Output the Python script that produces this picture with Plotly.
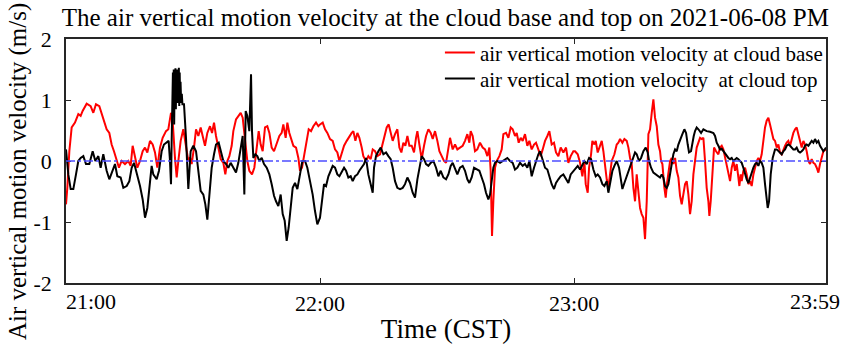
import plotly.graph_objects as go

# time in minutes after 21:00 (CST), velocities in m/s
base_time = [0.0, 0.31, 0.79, 1.34, 2.12, 2.91, 3.46, 3.93, 4.88, 5.82, 6.45, 7.08, 7.87, 8.42, 8.97, 9.60,
             10.23, 10.78, 11.33, 11.96, 12.51, 13.14, 13.93, 14.72, 15.27, 15.74, 16.29, 16.85, 17.48, 18.11,
             18.66, 19.21, 19.84, 20.47, 21.02, 21.57, 22.20, 22.83, 23.62, 24.17, 24.80, 25.19, 25.74, 26.14,
             26.53, 27.08, 27.71, 28.11, 28.89,
             29.29, 29.68, 30.23, 30.71, 31.26, 31.81, 32.28, 32.83, 33.38, 34.01, 34.49, 34.96, 35.43, 35.98,
             36.53, 37.16, 37.63, 38.11, 38.58, 39.13, 39.52, 40.15, 40.70, 41.26, 41.73, 42.12, 42.51, 42.83,
             43.30, 43.93, 44.48, 45.04, 45.51, 45.98, 46.45, 47.00, 47.55, 48.03, 48.58, 49.13, 49.76, 50.39,
             50.94, 51.33, 51.88, 52.28, 52.75, 53.22, 53.70, 54.33, 54.88, 55.27, 55.74, 56.22, 56.85, 57.32,
             57.87, 58.42, 59.05, 59.60,
             60.00, 60.63, 61.18, 61.73, 62.36, 62.99, 63.54, 64.09, 64.57, 65.12, 65.67, 66.30, 66.93, 67.48,
             67.87, 68.35, 68.82, 69.29, 69.84, 70.23, 70.86, 71.41, 71.96, 72.44, 72.99, 73.54, 74.17, 74.80,
             75.35, 75.74, 76.22, 76.69, 77.16, 77.71, 78.26, 78.74, 79.21, 79.68, 80.15, 80.63, 81.10, 81.65,
             82.20, 82.67, 82.99, 83.46, 84.01, 84.56, 85.04, 85.59, 86.14, 86.61, 87.16, 87.71, 88.19, 88.74,
             89.28, 89.76, 90.31,
             90.70, 91.33, 91.88, 92.43, 93.06, 93.69, 94.24, 94.79, 95.27, 95.58, 96.05, 96.60, 97.15, 97.78,
             98.41, 98.97, 99.52, 99.99, 100.30, 100.62, 100.93, 101.33, 101.72, 102.35, 102.90, 103.30, 103.93,
             104.48, 105.03, 105.50, 106.05, 106.45, 106.92, 107.39, 107.86, 108.41, 108.96, 109.44, 109.99,
             110.54, 111.01, 111.56, 112.11, 112.59, 113.14, 113.69, 114.16, 114.71, 115.26, 115.73, 116.29,
             116.84, 117.47, 118.10, 118.65, 119.20, 119.83,
             120.23, 120.86, 121.41, 121.96, 122.43, 122.75, 123.22, 123.54, 124.01, 124.32, 124.80, 125.11,
             125.58, 126.13, 126.53, 126.92, 127.32, 127.71, 128.10, 128.50, 128.89, 129.52, 130.07, 130.46,
             130.86, 131.41, 131.88, 132.43, 132.83, 133.22, 133.61, 134.01, 134.40, 134.79, 135.19, 135.58,
             135.97, 136.37, 136.76, 137.16, 137.55, 137.94, 138.34, 138.73, 139.12, 139.52, 139.91, 140.30,
             140.54, 140.86, 141.33, 141.64, 141.96, 142.27, 142.67, 143.06, 143.45, 143.85, 144.24, 144.63,
             145.03, 145.42, 145.82, 146.21, 146.60, 147.00, 147.39, 147.78, 148.18, 148.57, 148.96, 149.36,
             149.75,
             150.14, 150.54, 150.93, 151.32, 151.72, 151.95, 152.27, 152.74, 153.06, 153.53, 154.08, 154.47,
             154.87, 155.26, 155.65, 156.05, 156.44, 156.84, 157.23, 157.62, 158.02, 158.41, 158.80, 159.04,
             159.35, 159.59, 159.98, 160.38, 160.77, 161.17, 161.56, 161.95, 162.35, 162.74, 163.13, 163.53,
             163.92, 164.31, 164.71, 165.10, 165.49, 165.89, 166.28, 166.68, 167.07, 167.46, 167.86, 168.25,
             168.64, 169.04, 169.43, 169.83, 170.22, 170.61, 171.01, 171.40, 171.79, 172.19, 172.58, 172.97,
             173.37, 173.76, 174.16, 174.55, 174.94, 175.34, 175.73, 176.12, 176.52, 176.91, 177.31, 177.70,
             178.09, 178.49, 178.88, 179.51]
base_vel = [-0.71, -0.44, 0.16, 0.55, 0.63, 0.77, 0.74, 0.82, 0.94, 0.90, 0.79, 0.93, 0.90, 0.77, 0.68, 0.52,
            0.46, 0.27, 0.16, 0.0, -0.11, 0.0, -0.05, 0.0, -0.08, 0.25, 0.05, -0.11, 0.0, 0.16,
            0.22, 0.14, 0.33, 0.27, 0.14, -0.11, 0.22, 0.38, 0.49, 0.52, 0.79, 0.66, 0.05, -0.27,
            0.0, 0.33, 0.52, 0.33, 0.0,
            0.06, -0.05, 0.22, 0.52, 0.41, 0.55, 0.41, 0.25, 0.46, 0.57, 0.46, 0.63, 0.41, 0.22,
            0.03, -0.03, -0.22, 0.0, 0.08, 0.25, 0.49, 0.68, 0.74, 0.79, 0.71, 0.44, 0.22, 0.0,
            -0.16, -0.22, -0.11, 0.22, 0.49, 0.27, 0.16, 0.55, 0.57, 0.46, 0.22, 0.16, 0.30, 0.41,
            0.46, 0.60, 0.38, 0.63, 0.46, 0.36, 0.25, 0.22, 0.05, -0.16, -0.11, 0.08, 0.33, 0.52,
            0.49, 0.57, 0.63, 0.57,
            0.60, 0.63, 0.52, 0.46, 0.36, 0.33, 0.19, 0.14, 0.0, 0.14, 0.25, 0.33, 0.41, 0.46,
            0.49, 0.33, 0.46, 0.38, 0.22, 0.08, 0.0, 0.08, 0.03, 0.19, 0.16, 0.08, 0.11, 0.30,
            0.46, 0.55, 0.60, 0.46, 0.33, 0.44, 0.52, 0.22, 0.14, 0.30, 0.25, 0.41, 0.25, 0.25,
            0.14, 0.38, 0.49, 0.27, 0.03, 0.25, 0.41, 0.52, 0.46, 0.36, 0.49, 0.33, 0.16, 0.08,
            0.0, -0.03, 0.19,
            0.38, 0.19, 0.27, 0.19, 0.22, 0.25, 0.33, 0.44, 0.30, 0.49, 0.41, 0.16, 0.19, 0.30,
            0.22, 0.19, 0.08, 0.22, -0.16, -1.23, -0.66, -0.11, 0.0, 0.08, 0.19, 0.44, 0.46,
            0.38, 0.55, 0.52, 0.41, 0.46, 0.30, 0.38, 0.33, 0.44, 0.25, 0.33, 0.19,
            0.27, 0.30, 0.19, 0.08, 0.19, 0.33, 0.41, 0.49, 0.27, 0.30, 0.14, 0.08,
            0.22, 0.14, 0.22, -0.03, 0.08, 0.16,
            0.16, 0.11, -0.03, -0.25, 0.0, -0.38, -0.52, -0.11, 0.11, 0.33, 0.27, 0.33,
            0.14, 0.25, 0.33, 0.16, -0.08, -0.30, -0.44, -0.16, 0.0, 0.11, 0.27, 0.30,
            0.36, 0.30, 0.36, 0.33, 0.22, 0.05, -0.05, -0.44, -0.66, -0.22, -0.49, -0.77,
            -0.87, -0.93, -1.28, -0.66, 0.44, 0.52, 0.79, 1.01, 0.71, 0.57, 0.27, 0.16,
            0.0, -0.05, -0.44, -0.60, -0.36, -0.16, 0.0, 0.05, -0.05, 0.05, -0.16, -0.27,
            -0.57, -0.71, -0.55, -0.38, -0.33, -0.55, -0.87, -0.66, -0.22, 0.05, 0.22, 0.30,
            0.38,
            0.36, 0.38, 0.0, -0.44, -0.66, -0.90, -0.66, -0.16, 0.22, 0.16, 0.11, 0.22,
            0.25, 0.19, 0.05, -0.11, -0.22, -0.33, -0.11, 0.0, -0.16, -0.05, -0.27, -0.41,
            -0.22, -0.33, -0.16, -0.11, -0.22, -0.38, -0.33, -0.41, -0.22, -0.11, 0.0, 0.05,
            0.0, 0.11, 0.33, 0.55, 0.66, 0.71, 0.60, 0.46, 0.36, 0.33, 0.22, 0.27,
            0.14, 0.11, 0.19, 0.25, 0.30, 0.33, 0.25, 0.36, 0.46, 0.52, 0.55, 0.44,
            0.33, 0.22, 0.33, 0.27, 0.16, 0.0, -0.05, 0.03, -0.03, -0.05, -0.11, -0.19,
            -0.05, 0.08, 0.16, 0.19]

top_time = [0.0, 0.55, 1.10, 1.73, 2.36, 2.91, 3.46, 4.09, 4.72, 5.51, 6.30, 6.93, 7.64, 8.18, 8.81, 9.60,
            10.23, 11.02, 11.57, 12.12, 12.91, 13.54, 14.33, 14.96, 15.51, 16.06, 16.69, 17.48, 18.11, 18.66,
            19.21, 19.68, 20.23, 20.62, 21.41, 21.96, 22.59, 23.14, 23.77, 24.24, 24.56, 24.80, 24.95, 25.05,
            25.15, 25.25, 25.35, 25.45, 25.55, 25.65, 25.75, 25.85, 25.95, 26.05, 26.15, 26.25, 26.35, 26.45,
            26.55, 26.65, 26.75, 26.85, 26.95, 27.05, 27.20, 27.35, 27.50, 27.87, 28.34, 28.89, 29.44,
            30.08, 30.71, 31.26, 31.81, 32.44, 32.91, 33.38, 33.86, 34.41, 34.96, 35.43, 36.06, 36.53, 37.16,
            37.79, 38.34, 38.89, 39.52, 40.15, 40.70, 41.26, 41.73, 42.12, 42.44, 42.83, 43.30, 43.70, 43.93,
            44.25, 44.72, 45.19, 45.67, 46.22, 46.77, 47.40, 48.03, 48.58, 49.13, 49.60, 50.15, 50.70, 51.18,
            51.65, 52.12, 52.59, 53.07, 53.54, 54.09, 54.64, 55.27, 55.82, 56.45, 57.00, 57.63, 58.26, 58.81,
            59.36, 59.99,
            60.39, 60.94, 61.42, 61.97, 62.52, 62.99, 63.54, 64.09, 64.57, 65.12, 65.67, 66.14, 66.69, 67.24,
            67.71, 68.26, 68.82, 69.29, 69.84, 70.39, 70.86, 71.41, 71.96, 72.44, 72.75, 73.22, 73.78, 74.33,
            74.96, 75.59, 76.14, 76.69, 77.16, 77.71, 78.26, 78.89, 79.52, 80.07, 80.63, 81.25, 81.88, 82.43,
            82.99, 83.46, 84.01, 84.56, 85.04, 85.59, 86.14, 86.77, 87.40, 87.95, 88.50, 89.13, 89.76, 90.31,
            90.86,
            91.33, 91.88, 92.43, 93.06, 93.69, 94.24, 94.79, 95.27, 95.82, 96.37, 97.00, 97.63, 98.18, 98.73,
            99.20, 99.75, 100.15, 100.54, 100.93, 101.33, 101.88, 102.51, 103.14, 103.69, 104.24, 104.87,
            105.50, 106.05, 106.61, 107.23, 107.86, 108.41, 108.96, 109.44, 109.99, 110.54, 111.01, 111.56,
            111.96, 112.59, 113.14, 113.69, 114.16, 114.71, 115.26, 115.73, 116.29, 116.84, 117.47, 118.10,
            118.65, 119.20, 119.83, 120.46,
            120.86, 121.41, 121.96, 122.43, 122.99, 123.54, 124.01, 124.56, 125.11, 125.58, 126.13, 126.69,
            127.16, 127.71, 128.10, 128.50, 129.05, 129.52, 130.07, 130.62, 131.09, 131.41, 131.88, 132.43,
            132.98, 133.45, 134.01, 134.40, 134.79, 135.34, 135.82, 136.37, 136.92, 137.39, 137.71, 138.18,
            138.73, 139.28, 139.75, 140.30, 140.70, 141.09, 141.49, 141.88, 142.27, 142.67, 143.06, 143.45,
            143.85, 144.24, 144.63, 145.03, 145.58, 146.05, 146.45, 146.84, 147.15, 147.62, 147.94, 148.26,
            148.57, 148.96, 149.36, 149.99, 150.54,
            151.32, 152.11, 152.90, 153.29, 153.69, 154.08, 154.47, 154.87, 155.26, 155.65, 156.05, 156.44,
            156.84, 157.23, 157.62, 158.02, 158.41, 158.80, 159.20, 159.59, 159.98, 160.38, 160.77, 161.17,
            161.56, 161.95, 162.35, 162.74, 163.13, 163.53, 163.92, 164.31, 164.71, 165.10, 165.49, 165.73,
            166.05, 166.44, 166.91, 167.46, 167.86, 168.25, 168.64, 169.04, 169.43, 169.83, 170.22, 170.61,
            171.01, 171.40, 171.79, 172.19, 172.58, 172.97, 173.37, 173.76, 174.16, 174.55, 174.94, 175.34,
            175.73, 176.12, 176.52, 176.91, 177.31, 177.70, 178.09, 178.49, 178.88, 179.51]
top_vel = [0.19, -0.22, -0.46, -0.46, -0.22, 0.0, 0.05, 0.08, -0.05, -0.05, 0.16, 0.0, 0.08, -0.11, 0.11, -0.16,
           -0.30, -0.16, -0.05, -0.25, -0.27, -0.44, -0.41, -0.33, -0.11, -0.03, -0.19, -0.41, -0.63, -0.93,
           -0.77, -0.44, -0.08, -0.22, -0.30, -0.16, 0.16, 0.27, 0.30, 0.33, 0.0, -0.38, 0.30, 1.20,
           0.75, 1.45, 0.90, 1.50, 0.60, 1.35, 0.95, 1.52, 0.85, 1.42, 1.00, 1.50, 0.95, 1.40,
           1.05, 1.53, 0.90, 1.45, 1.05, 1.30, 0.95, 1.10, 0.93, 0.93, 0.38, -0.46, 0.16,
           0.25, 0.16, -0.22, -0.49, -0.55, -0.71, -0.96, -0.49, -0.11, 0.11, 0.27, 0.30, 0.19, 0.0,
           -0.05, -0.11, -0.03, -0.11, -0.19, -0.03, 0.22, 0.41, -0.55, 0.82, 0.74, 0.49, 1.42, 0.49,
           0.05, 0.11, 0.08, 0.0, 0.05, -0.05, -0.11, -0.22, -0.38, -0.57, -0.66, -0.74, -0.55, -0.87,
           -0.98, -1.31, -1.09, -0.71, -0.44, -0.36, -0.46, -0.22, 0.0, 0.0, -0.11, -0.33, -0.55, -0.82,
           -1.04, -0.93,
           -0.66, -0.38, -0.41, -0.25, -0.16, -0.08, -0.11, -0.22, -0.25, -0.19, -0.11, -0.16, -0.27, -0.25,
           -0.33, -0.25, -0.22, -0.16, -0.11, -0.05, 0.05, -0.22, -0.38, -0.52, -0.11, 0.08, 0.16, 0.22,
           0.11, 0.14, 0.08, 0.03, -0.11, -0.33, -0.44, -0.46, -0.44, -0.38, -0.27, -0.36, -0.52, -0.60,
           -0.30, -0.11, 0.08, 0.03, -0.05, -0.08, -0.03, 0.0, -0.11, -0.25, -0.16, -0.27, -0.30, -0.22,
           -0.08,
           -0.03, -0.14, -0.22, -0.11, -0.08, -0.16, -0.30, -0.36, -0.27, -0.11, -0.14, -0.16, -0.27, -0.38,
           -0.52, -0.63, -0.55, -0.27, -0.11, -0.03, 0.0, -0.03, 0.0, 0.03, 0.05, 0.0,
           -0.03, -0.14, -0.11, -0.03, -0.08, -0.05, -0.11, 0.0, -0.25, -0.11, 0.0, 0.11,
           0.16, 0.0, -0.11, -0.14, -0.25, -0.38, -0.46, -0.36, -0.30, -0.25, -0.22, -0.30,
           -0.36, -0.22, -0.16, -0.11,
           -0.08, -0.14, -0.05, 0.0, -0.05, 0.05, 0.03, -0.14, -0.25, -0.22, -0.27, -0.38,
           -0.41, -0.33, -0.52, -0.38, -0.16, -0.08, 0.0, -0.11, -0.30, -0.46, -0.36, -0.25,
           -0.11, -0.03, 0.08, 0.14, 0.11, 0.0, 0.05, 0.16, 0.22, 0.14, 0.0, -0.11,
           -0.19, -0.22, -0.25, -0.27, -0.22, -0.27, -0.41, -0.44, -0.38, -0.22, 0.0, 0.11,
           0.19, 0.16, 0.27, 0.33, 0.44, 0.52, 0.46, 0.27, 0.14, 0.16, 0.30, 0.41,
           0.49, 0.55, 0.52, 0.46, 0.52,
           0.49, 0.48, 0.46, 0.41, 0.30, 0.25, 0.19, 0.20, 0.16, 0.14, 0.08, 0.05,
           0.03, 0.05, 0.0, 0.03, 0.05, 0.03, 0.0, -0.03, -0.11, -0.22, -0.30, -0.36,
           -0.27, -0.22, -0.11, -0.05, -0.03, -0.08, 0.0, -0.03, -0.11, -0.38, -0.66, -0.77,
           -0.66, -0.22, 0.05, 0.19, 0.19, 0.16, 0.14, 0.11, 0.16, 0.19, 0.25, 0.27,
           0.25, 0.22, 0.19, 0.19, 0.22, 0.16, 0.14, 0.16, 0.19, 0.25, 0.27, 0.25,
           0.30, 0.33, 0.30, 0.36, 0.30, 0.33, 0.25, 0.19, 0.16, 0.22]

x_tick_vals = [60, 120]
x_tick_text = ["22:00", "23:00"]
x_start_label = "21:00"
x_end_label = "23:59"
x_end = 179.5
y_tick_vals = [-2, -1, 0, 1, 2]
y_tick_text = ["-2", "-1", "0", "1", "2"]

FONT = "Liberation Serif"

fig = go.Figure()
fig.add_trace(go.Scatter(x=base_time, y=base_vel, mode="lines", legend="legend",
                         name="air vertical motion velocity at cloud base",
                         line=dict(color="#ff0000", width=2)))
fig.add_trace(go.Scatter(x=top_time, y=top_vel, mode="lines", legend="legend2",
                         name="air vertical motion velocity \u00a0at cloud top",
                         line=dict(color="#000000", width=2)))
fig.add_shape(type="line", xref="paper", yref="y", x0=0, x1=1, y0=0, y1=0,
              line=dict(color="#4d4dff", width=1.5, dash="dashdot"))

# first and last time labels sit slightly inside the axis ends, as in the original
fig.add_annotation(x=0, y=0, xref="x", yref="paper", text=x_start_label,
                   showarrow=False, xanchor="left", yanchor="top", yshift=-4, xshift=-2,
                   font=dict(family=FONT, size=22, color="black"))
fig.add_annotation(x=x_end, y=0, xref="x", yref="paper", text=x_end_label,
                   showarrow=False, xanchor="right", yanchor="top", yshift=-4, xshift=16,
                   font=dict(family=FONT, size=22, color="black"))
# y-axis title
fig.add_annotation(x=-0.063, y=0.455, xref="paper", yref="paper",
                   text="Air vertical motion velocity (m/s)", textangle=-90,
                   showarrow=False, xanchor="center", yanchor="middle",
                   font=dict(family=FONT, size=25, color="black"))

legend_style = dict(xanchor="left", yanchor="top", bgcolor="rgba(255,255,255,0)", borderwidth=0,
                    font=dict(family=FONT, size=21, color="black"), itemwidth=30)

fig.update_layout(
    width=845, height=344,
    margin=dict(l=66, r=19, t=39, b=61),
    paper_bgcolor="white", plot_bgcolor="white",
    font=dict(family=FONT, color="black"),
    title=dict(text="The air vertical motion velocity at the cloud base and top on 2021-06-08 PM",
               x=0.527, xanchor="center", y=0.95, yanchor="middle",
               font=dict(family=FONT, size=25, color="black")),
    showlegend=True,
    legend=dict(x=0.492, y=1.027, **legend_style),
    legend2=dict(x=0.492, y=0.921, **legend_style),
    xaxis=dict(range=[0, x_end], tickvals=x_tick_vals, ticktext=x_tick_text,
               ticks="inside", ticklen=5, tickwidth=1, tickcolor="#262626",
               showline=True, linecolor="#262626", linewidth=1.5, mirror="ticks",
               showgrid=False, zeroline=False, automargin=False,
               tickfont=dict(family=FONT, size=22, color="black"),
               title=dict(text="Time (CST)", standoff=6,
                          font=dict(family=FONT, size=27, color="black"))),
    yaxis=dict(range=[-2, 2], tickvals=y_tick_vals, ticktext=y_tick_text,
               ticks="inside", ticklen=5, tickwidth=1, tickcolor="#262626",
               showline=True, linecolor="#262626", linewidth=1.5, mirror="ticks",
               showgrid=False, zeroline=False, ticklabelstandoff=8, automargin=False,
               tickfont=dict(family=FONT, size=22, color="black")),
)

fig.write_html("out.html")
